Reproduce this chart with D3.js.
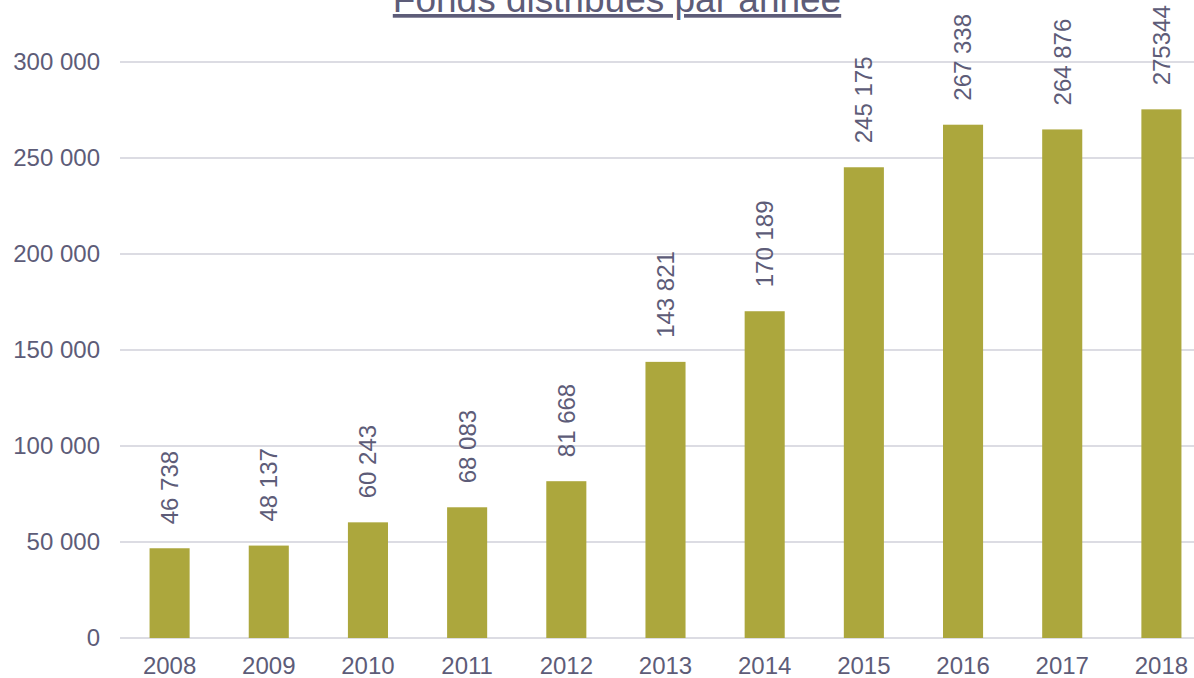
<!DOCTYPE html>
<html>
<head>
<meta charset="utf-8">
<script src="https://cdn.jsdelivr.net/npm/d3@7"></script>
<style>
  html, body { margin: 0; padding: 0; background: #ffffff; }
  svg text { font-family: "Liberation Sans", Arial, sans-serif; fill: #5d5c78; }
</style>
</head>
<body>
<div id="chart"></div>
<script>
// data
const years = ["2008", "2009", "2010", "2011", "2012", "2013", "2014", "2015", "2016", "2017", "2018"];
const funds = [46738, 48137, 60243, 68083, 81668, 143821, 170189, 245175, 267338, 264876, 275344];
const valueLabels = ["46 738", "48 137", "60 243", "68 083", "81 668", "143 821", "170 189", "245 175", "267 338", "264 876", "275344"];
const yTicks = [0, 50000, 100000, 150000, 200000, 250000, 300000];
const chartTitle = "Fonds distribués par année";

const width = 1194, height = 678;
const margin = { top: 62, right: -17, bottom: 40, left: 120 };

const svg = d3.select("#chart").append("svg")
  .attr("width", width)
  .attr("height", height);

const fr = d3.formatLocale({ decimal: ",", thousands: " ", grouping: [3], currency: ["", ""] });
const fmt = fr.format(",");

const x = d3.scaleBand()
  .domain(years)
  .range([margin.left, width - margin.right])
  .paddingInner(0.596)
  .paddingOuter(0.298);

const y = d3.scaleLinear()
  .domain([0, 300000])
  .range([height - margin.bottom, margin.top]);

// gridlines
svg.append("g")
  .selectAll("line")
  .data(yTicks)
  .join("line")
  .attr("x1", margin.left)
  .attr("x2", width)
  .attr("y1", d => y(d))
  .attr("y2", d => y(d))
  .attr("stroke", "#dcdce3")
  .attr("stroke-width", 2);

// y axis labels
const yAxis = svg.append("g")
  .attr("transform", `translate(${margin.left},0)`)
  .call(d3.axisLeft(y).tickValues(yTicks).tickFormat(fmt).tickSize(0).tickPadding(20));
yAxis.select(".domain").remove();
yAxis.selectAll("text").attr("font-size", 24).attr("font-family", null);

// x axis labels
const xAxis = svg.append("g")
  .attr("transform", `translate(0,${y(0)})`)
  .call(d3.axisBottom(x).tickSize(0).tickPadding(19));
xAxis.select(".domain").remove();
xAxis.selectAll("text").attr("font-size", 24).attr("font-family", null);

// bars
svg.append("g")
  .selectAll("rect")
  .data(funds)
  .join("rect")
  .attr("x", (d, i) => x(years[i]))
  .attr("width", x.bandwidth())
  .attr("y", d => y(d))
  .attr("height", d => y(0) - y(d))
  .attr("fill", "#aca73d");

// value labels, rotated
svg.append("g")
  .selectAll("text")
  .data(funds)
  .join("text")
  .attr("transform", (d, i) => `translate(${x(years[i]) + x.bandwidth() / 2},${y(d) - 24}) rotate(-90)`)
  .attr("dy", "0.35em")
  .attr("font-size", 24)
  .text((d, i) => valueLabels[i]);

// title
svg.append("text")
  .attr("x", 617)
  .attr("y", 12)
  .attr("text-anchor", "middle")
  .attr("font-size", 37)
  .attr("text-decoration", "underline")
  .text(chartTitle);
</script>
</body>
</html>
